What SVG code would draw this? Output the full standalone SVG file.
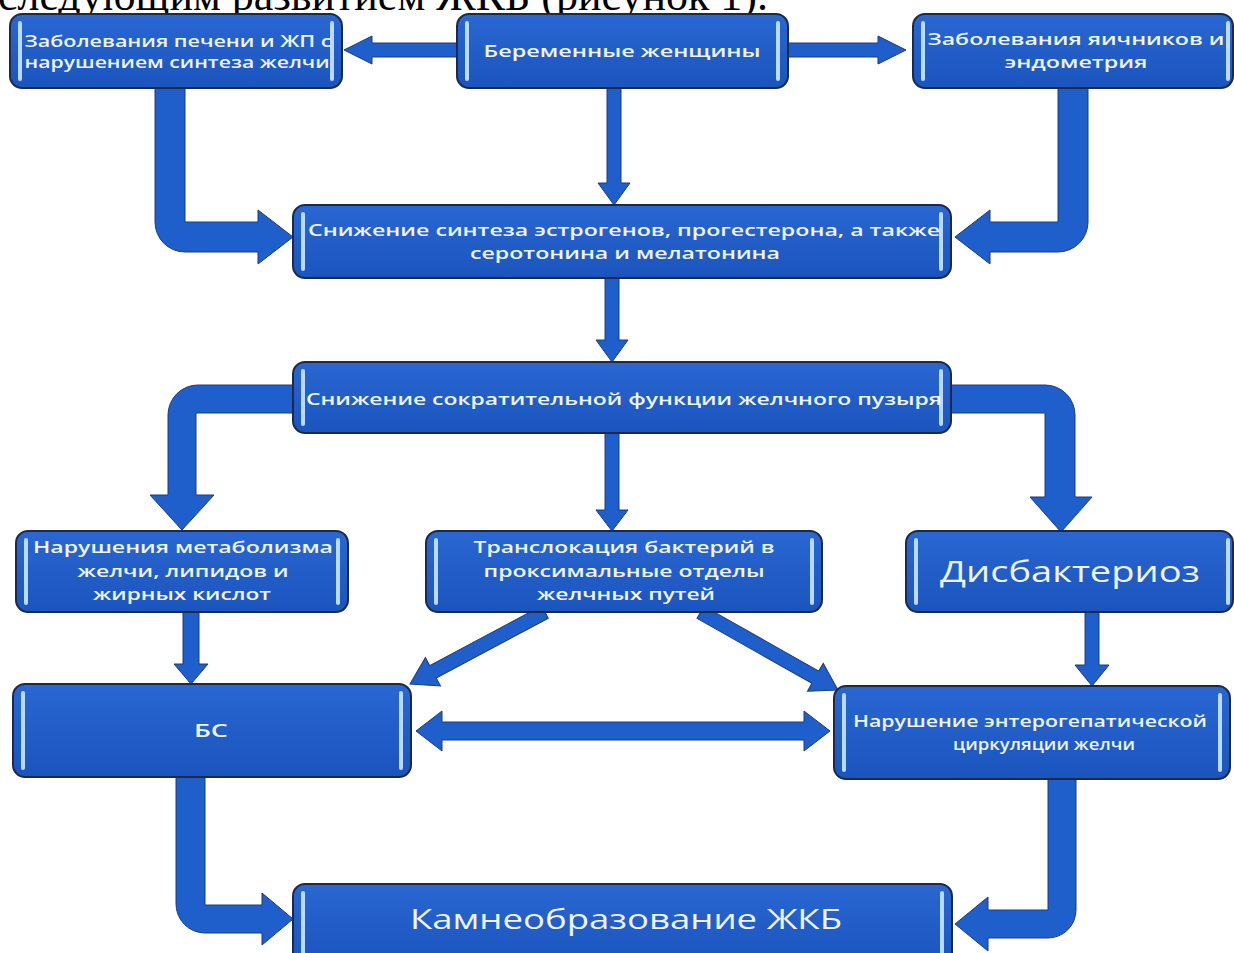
<svg xmlns="http://www.w3.org/2000/svg" width="1234" height="953" viewBox="0 0 1234 953">
<defs>
<linearGradient id="g" x1="0" y1="0" x2="0" y2="1">
<stop offset="0" stop-color="#2a67d2"/>
<stop offset="1" stop-color="#1b54bd"/>
</linearGradient>
<style>
.box{fill:url(#g);stroke:#1c2a48;stroke-width:2}
.bar{stroke:#b8dbff;stroke-width:4;stroke-linecap:round}
.t{fill:#eef4fc;font-family:"Open Sans","Noto Sans",sans-serif;font-weight:600;font-size:17px;text-anchor:middle}
.arrow{fill:#1f5fcb;stroke:#1c3b80;stroke-width:1}
.hdr{fill:#000;font-family:"Liberation Serif","Times New Roman",serif;font-size:44px;text-anchor:end}
</style>
</defs>
<rect width="1234" height="953" fill="#ffffff"/>
<text class="hdr" x="768" y="10">последующим развитием ЖКБ (рисунок 1).</text>

<g id="connectors">
<polygon class="arrow" points="457,43 372,43 372,36 344,50 372,64 372,57 457,57"/>
<polygon class="arrow" points="788,43 878,43 878,36 906,50 878,64 878,57 788,57"/>
<polygon class="arrow" points="607,88 607,183 598,183 614,205 630,183 621,183 621,88"/>
<polygon class="arrow" points="605,278 605,340 596,340 612,362 628,340 619,340 619,278"/>
<polygon class="arrow" points="605,433 605,510 596,510 612,531 628,510 619,510 619,433"/>
<polygon class="arrow" points="183,612 183,664 174,664 191,684 208,664 199,664 199,612"/>
<polygon class="arrow" points="1085,612 1085,665 1075,665 1092,686 1109,665 1099,665 1099,612"/>
<path class="arrow" d="M155,88 L185,88 L185,222 L258,222 L258,210 L293,237 L258,264 L258,252 L185,252 A30,30 0 0 1 155,222 Z"/>
<path class="arrow" d="M1058,88 L1088,88 L1088,222 A30,30 0 0 1 1058,252 L990,252 L990,264 L955,237 L990,210 L990,222 L1058,222 Z"/>
<path class="arrow" d="M293,385 L198,385 A30,30 0 0 0 168,415 L168,495 L150,495 L182,530 L214,495 L196,495 L196,413 L293,413 Z"/>
<path class="arrow" d="M951,385 L1045,385 A30,30 0 0 1 1075,415 L1075,497 L1092,497 L1061,532 L1030,497 L1045,497 L1045,413 L951,413 Z"/>
<polygon class="arrow" transform="translate(410,684) rotate(-28.07)" points="0,0 26,-16 26,-7 153,-7 153,7 26,7 26,16"/>
<polygon class="arrow" transform="translate(838,690) rotate(-150.53)" points="0,0 26,-16 26,-7 158,-7 158,7 26,7 26,16"/>
<polygon class="arrow" points="416,731 442,711 442,722 804,722 804,711 830,731 804,751 804,740 442,740 442,751"/>
<path class="arrow" d="M176,777 L205,777 L205,905 L262,905 L262,893 L293,919 L262,945 L262,933 L205,933 A29,29 0 0 1 176,904 Z"/>
<path class="arrow" d="M1048,779 L1076,779 L1076,910 A28,28 0 0 1 1048,938 L988,938 L988,951 L955,924 L988,897 L988,910 L1048,910 Z"/>
</g>

<g id="n1">
<rect class="box" x="10" y="14" width="332" height="74" rx="12"/>
<line class="bar" x1="20" y1="23" x2="20" y2="79"/><line class="bar" x1="332" y1="23" x2="332" y2="79"/>
<text class="t" x="178" y="47" textLength="307" lengthAdjust="spacingAndGlyphs">Заболевания печени и ЖП с</text>
<text class="t" x="177" y="68" textLength="305" lengthAdjust="spacingAndGlyphs">нарушением синтеза желчи</text>
</g>
<g id="n2">
<rect class="box" x="457" y="14" width="331" height="74" rx="12"/>
<line class="bar" x1="467" y1="23" x2="467" y2="79"/><line class="bar" x1="778" y1="23" x2="778" y2="79"/>
<text class="t" x="622" y="57" textLength="277" lengthAdjust="spacingAndGlyphs">Беременные женщины</text>
</g>
<g id="n3">
<rect class="box" x="913" y="14" width="320" height="74" rx="12"/>
<line class="bar" x1="923" y1="23" x2="923" y2="79"/><line class="bar" x1="1228" y1="23" x2="1228" y2="79"/>
<text class="t" x="1076" y="45" textLength="297" lengthAdjust="spacingAndGlyphs">Заболевания яичников и</text>
<text class="t" x="1076" y="68" textLength="143" lengthAdjust="spacingAndGlyphs">эндометрия</text>
</g>
<g id="n4">
<rect class="box" x="293" y="205" width="658" height="73" rx="12"/>
<line class="bar" x1="303" y1="214" x2="303" y2="269"/><line class="bar" x1="941" y1="214" x2="941" y2="269"/>
<text class="t" x="624" y="236" textLength="632" lengthAdjust="spacingAndGlyphs">Снижение синтеза эстрогенов, прогестерона, а также</text>
<text class="t" x="625" y="259" textLength="310" lengthAdjust="spacingAndGlyphs">серотонина и мелатонина</text>
</g>
<g id="n5">
<rect class="box" x="293" y="362" width="658" height="71" rx="12"/>
<line class="bar" x1="303" y1="371" x2="303" y2="424"/><line class="bar" x1="941" y1="371" x2="941" y2="424"/>
<text class="t" x="624" y="405" textLength="636" lengthAdjust="spacingAndGlyphs">Снижение сократительной функции желчного пузыря</text>
</g>
<g id="n6">
<rect class="box" x="16" y="531" width="332" height="81" rx="12"/>
<line class="bar" x1="26" y1="540" x2="26" y2="603"/><line class="bar" x1="338" y1="540" x2="338" y2="603"/>
<text class="t" x="183" y="553" textLength="300" lengthAdjust="spacingAndGlyphs">Нарушения метаболизма</text>
<text class="t" x="183" y="577" textLength="211" lengthAdjust="spacingAndGlyphs">желчи, липидов и</text>
<text class="t" x="182" y="600" textLength="178" lengthAdjust="spacingAndGlyphs">жирных кислот</text>
</g>
<g id="n7">
<rect class="box" x="426" y="531" width="396" height="81" rx="12"/>
<line class="bar" x1="436" y1="540" x2="436" y2="603"/><line class="bar" x1="812" y1="540" x2="812" y2="603"/>
<text class="t" x="624" y="553" textLength="301" lengthAdjust="spacingAndGlyphs">Транслокация бактерий в</text>
<text class="t" x="624" y="577" textLength="281" lengthAdjust="spacingAndGlyphs">проксимальные отделы</text>
<text class="t" x="626" y="600" textLength="178" lengthAdjust="spacingAndGlyphs">желчных путей</text>
</g>
<g id="n8">
<rect class="box" x="906" y="531" width="327" height="81" rx="12"/>
<line class="bar" x1="916" y1="540" x2="916" y2="603"/><line class="bar" x1="1228" y1="540" x2="1228" y2="603"/>
<text class="t" x="1070" y="582" style="font-size:30px;font-weight:500" textLength="260" lengthAdjust="spacingAndGlyphs">Дисбактериоз</text>
</g>
<g id="n9">
<rect class="box" x="13" y="684" width="398" height="93" rx="12"/>
<line class="bar" x1="23" y1="693" x2="23" y2="768"/><line class="bar" x1="401" y1="693" x2="401" y2="768"/>
<text class="t" x="211" y="737" style="font-size:18px" textLength="34" lengthAdjust="spacingAndGlyphs">БС</text>
</g>
<g id="n10">
<rect class="box" x="834" y="686" width="396" height="93" rx="12"/>
<line class="bar" x1="844" y1="695" x2="844" y2="770"/><line class="bar" x1="1220" y1="695" x2="1220" y2="770"/>
<text class="t" x="1030" y="727" textLength="354" lengthAdjust="spacingAndGlyphs">Нарушение энтерогепатической</text>
<text class="t" x="1044" y="750" textLength="182" lengthAdjust="spacingAndGlyphs">циркуляции желчи</text>
</g>
<g id="n11">
<rect class="box" x="293" y="884" width="659" height="80" rx="12"/>
<line class="bar" x1="303" y1="893" x2="303" y2="960"/><line class="bar" x1="942" y1="893" x2="942" y2="960"/>
<text class="t" x="626" y="929" style="font-size:28px;font-weight:500" textLength="432" lengthAdjust="spacingAndGlyphs">Камнеобразование ЖКБ</text>
</g>
</svg>
